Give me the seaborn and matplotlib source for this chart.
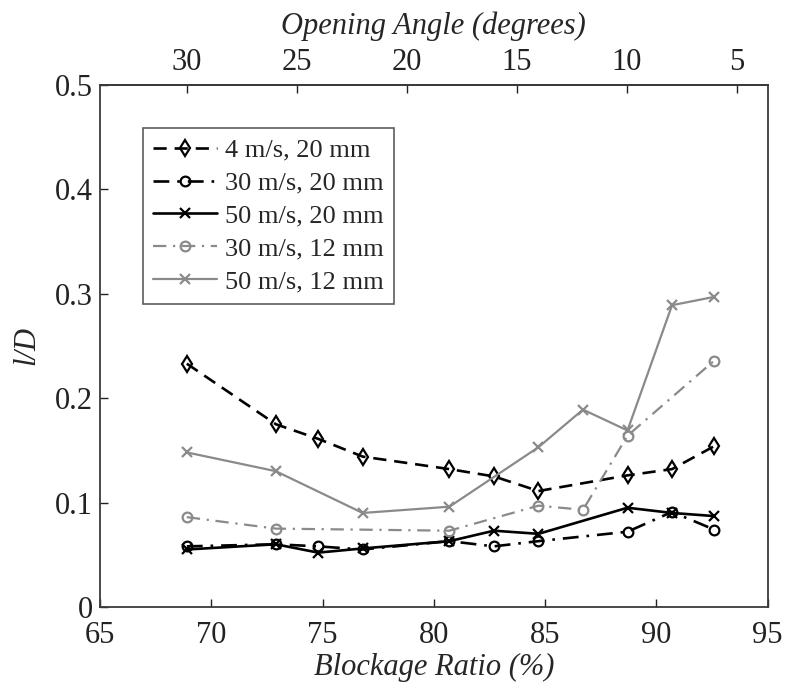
import numpy as np
import pandas as pd
import seaborn as sns
import matplotlib.pyplot as plt

# blockage ratio (%) of each test and the matching opening angle (degrees)
blockage = [68.9, 72.9, 74.8, 76.8, 80.7, 82.7, 84.7, 86.7, 88.7, 90.7, 92.6]
angle = [30, 26, 24, 22, 18, 16, 14, 12, 10, 8, 6]

# l/D per test, None where no point was measured
ld_4_20 = [0.233, 0.175, 0.161, 0.144, 0.132, 0.125, 0.111, None, 0.126, 0.132, 0.154]
ld_30_20 = [0.058, 0.060, 0.058, 0.055, 0.063, 0.058, 0.063, None, 0.072, 0.091, 0.074]
ld_50_20 = [0.055, 0.060, 0.052, 0.056, 0.063, 0.073, 0.070, None, 0.095, 0.090, 0.087]
ld_30_12 = [0.086, 0.075, None, None, 0.073, None, 0.097, 0.093, 0.164, None, 0.236]
ld_50_12 = [0.148, 0.130, None, 0.090, 0.096, None, 0.153, 0.189, 0.169, 0.289, 0.297]

labels = ['4 m/s, 20 mm', '30 m/s, 20 mm', '50 m/s, 20 mm', '30 m/s, 12 mm', '50 m/s, 12 mm']
series = [ld_4_20, ld_30_20, ld_50_20, ld_30_12, ld_50_12]

xticks = [65, 70, 75, 80, 85, 90, 95]
yticks = [0, 0.1, 0.2, 0.3, 0.4, 0.5]
top_ticks = [30, 25, 20, 15, 10, 5]

gray = '#8a8a8a'
styles = [
    dict(color='black', dashes=(5, 3), marker='d', ms=8, lw=1.9),
    dict(color='black', dashes=(6, 3, 1, 3), marker='o', ms=7, lw=1.9),
    dict(color='black', linestyle='-', marker='x', ms=7, lw=1.9),
    dict(color=gray, dashes=(6, 3, 1, 3), marker='o', ms=7, lw=1.6),
    dict(color=gray, linestyle='-', marker='x', ms=7, lw=1.6),
]

sns.set_theme(style='white')
plt.rcParams['font.family'] = ['Liberation Serif', 'DejaVu Serif']

fig, ax = plt.subplots(figsize=(7.85, 6.85), dpi=100)
fig.subplots_adjust(left=0.1274, right=0.978, bottom=0.114, top=0.876)

for lab, vals, st in zip(labels, series, styles):
    df = pd.DataFrame({'br': blockage, 'ld': vals}).dropna()
    sns.lineplot(data=df, x='br', y='ld', ax=ax, label=lab, sort=False,
                 markerfacecolor='none', markeredgecolor=st['color'],
                 markeredgewidth=1.6, **st)

ax.set_xlim(65, 95)
ax.set_ylim(0, 0.5)
ax.set_xticks(xticks)
ax.set_yticks(yticks)
ax.set_yticklabels([f'{v:g}' for v in yticks])
ax.tick_params(direction='in', length=6, width=1, labelsize=22, colors='#222222',
               top=False, right=False, bottom=True, left=True)
ax.tick_params(axis='x', pad=10)
ax.tick_params(axis='y', pad=5)
for sp in ax.spines.values():
    sp.set_color('#3a3a3a')
    sp.set_linewidth(1.3)

ax.set_xlabel('Blockage Ratio (%)', fontsize=22, style='italic', labelpad=2)
ax.set_ylabel('l/D', fontsize=22, style='italic', labelpad=10)

# top axis: opening angle is linear in the blockage ratio
k, b = np.polyfit(blockage, angle, 1)
top = ax.secondary_xaxis('top', functions=(lambda x: k * x + b, lambda a: (a - b) / k))
top.set_xticks(top_ticks)
top.tick_params(direction='in', length=6, width=1, labelsize=22, colors='#222222', pad=6)
top.spines['top'].set_color('#3a3a3a')
top.spines['top'].set_linewidth(1.3)
top.set_xlabel('Opening Angle (degrees)', fontsize=22, style='italic', labelpad=10)

leg = ax.legend(loc='upper left', bbox_to_anchor=(0.064, 0.918), borderaxespad=0,
                fontsize=19, frameon=True, fancybox=False, edgecolor='#333333',
                handlelength=2.4, handletextpad=0.3, labelspacing=0.36,
                borderpad=0.4)
leg.get_frame().set_linewidth(1.2)

fig.savefig('out.png', dpi=100)
